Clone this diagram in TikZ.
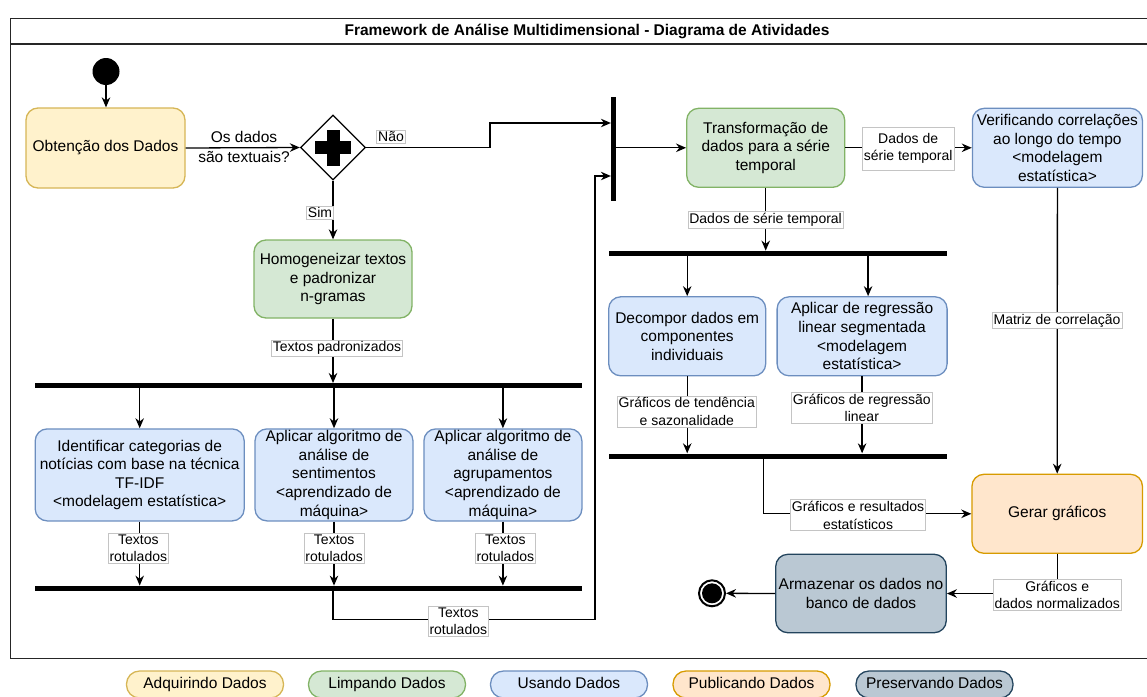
\documentclass[tikz,border=0pt]{standalone}
\usepackage{fontspec}
\setmainfont{Liberation Sans}
\usetikzlibrary{shapes.geometric,arrows.meta}

\definecolor{yfill}{HTML}{FFF2CC}\definecolor{ydraw}{HTML}{D6B656}
\definecolor{gfill}{HTML}{D5E8D4}\definecolor{gdraw}{HTML}{82B366}
\definecolor{bfill}{HTML}{DAE8FC}\definecolor{bdraw}{HTML}{6C8EBF}
\definecolor{ofill}{HTML}{FFE6CC}\definecolor{odraw}{HTML}{D79B00}
\definecolor{sfill}{HTML}{BAC8D3}\definecolor{sdraw}{HTML}{23445D}
\definecolor{lblgray}{HTML}{C4C4C4}

\newcommand{\actfont}{\fontsize{15.5}{18.6}\selectfont}
\newcommand{\labfont}{\fontsize{14}{17.5}\selectfont}

\begin{document}
\begin{tikzpicture}[x=1pt,y=-1pt,
  act/.style={draw, rounded corners=12pt, line width=1.3pt, align=center, inner sep=1pt, font=\actfont},
  yel/.style={act, fill=yfill, draw=ydraw},
  grn/.style={act, fill=gfill, draw=gdraw},
  blu/.style={act, fill=bfill, draw=bdraw},
  org/.style={act, fill=ofill, draw=odraw},
  gry/.style={act, fill=sfill, draw=sdraw},
  syncbar/.style={fill=black, draw=none, inner sep=0pt},
  arr/.style={line width=1.3pt, -{Stealth[length=10pt,width=8.5pt]}},
  lbl/.style={fill=white, draw=lblgray, line width=0.6pt, inner sep=1.5pt, align=center, font=\labfont},
  pill/.style={rounded corners=13pt, line width=1.3pt, minimum width=157pt, minimum height=27pt, inner sep=1pt, text height=11.2pt, text depth=3.3pt, font=\actfont},
  frame/.style={draw=black!85, line width=1.3pt}]

\useasboundingbox (0,0) rectangle (1147,696);

% outer frame with title bar
\draw[frame] (10.5,18.3) rectangle (1152,658.3);
\draw[frame] (10.5,44) -- (1152,44);
\node[font=\bfseries\actfont] (title) at (587,31) {Framework de Análise Multidimensional - Diagrama de Atividades};

% activities
\node[circle, fill=black, minimum size=27pt, inner sep=0pt] (ini) at (106,71.5) {};
\node[yel, minimum width=159pt, minimum height=80pt] (obt) at (105.5,148) {Obtenção dos Dados};
\node[diamond, draw, line width=1.3pt, fill=white, minimum width=65pt, minimum height=65pt, inner sep=0pt] (gw) at (333,147.5) {};
\fill (gw.center) +(-18,-6.25) rectangle +(18,6.25);
\fill (gw.center) +(-6.5,-18) rectangle +(6.5,18);

\node[grn, minimum width=158pt, minimum height=78pt] (hom) at (333,279) {Homogeneizar textos\\e padronizar\\n-gramas};
\node[syncbar, minimum width=546.5pt, minimum height=5pt] (bar1) at (308.5,385.7) {};

\node[blu, minimum width=209pt, minimum height=92pt] (ident) at (139.7,474.9) {Identificar categorias de\\notícias com base na técnica\\TF-IDF\\<modelagem estatística>};
\node[blu, minimum width=158pt, minimum height=92pt] (senti) at (334,474.9) {Aplicar algoritmo de\\análise de\\sentimentos\\<aprendizado de\\máquina>};
\node[blu, minimum width=158pt, minimum height=92pt] (agrup) at (502.9,474.9) {Aplicar algoritmo de\\análise de\\agrupamentos\\<aprendizado de\\máquina>};
\node[syncbar, minimum width=546.5pt, minimum height=5pt] (bar2) at (308.5,588.3) {};

\node[syncbar, minimum width=5pt, minimum height=103.5pt] (vbar) at (613.6,149) {};
\node[grn, minimum width=158pt, minimum height=79pt] (trans) at (765.7,147.8) {Transformação de\\dados para a série\\temporal};
\node[blu, minimum width=170pt, minimum height=79pt] (verif) at (1057.4,147.8) {Verificando correlações\\ao longo do tempo\\<modelagem\\estatística>};
\node[syncbar, minimum width=338pt, minimum height=5pt] (bar3) at (778,253.3) {};

\node[blu, minimum width=157pt, minimum height=79pt] (decomp) at (687.2,336.3) {Decompor dados em\\componentes\\individuais};
\node[blu, minimum width=170pt, minimum height=79pt] (regr) at (862.1,336.3) {Aplicar de regressão\\linear segmentada\\<modelagem\\estatística>};
\node[syncbar, minimum width=338.5pt, minimum height=5pt] (bar4) at (777.75,456) {};

\node[org, minimum width=170.5pt, minimum height=79pt] (gerar) at (1057.2,513.8) {Gerar gráficos};
\node[gry, minimum width=170.5pt, minimum height=78.4pt] (armaz) at (861,593.5) {Armazenar os dados no\\banco de dados};
\node[circle, draw, line width=2pt, fill=white, minimum size=26pt, inner sep=0pt] (fin) at (712,593.3) {};
\fill (fin.center) circle[radius=10pt];

% bend points
\coordinate (nbend) at (490,123);
\coordinate (tr1) at (333,619.3);
\coordinate (tr2) at (595,176);

% connectors
\draw[arr] (ini.south) -- (ini.south |- obt.north);
\draw[arr] (obt.east) -- (gw.west);
\draw[arr] (gw.east) -| (nbend) -- (nbend -| vbar.west);
\draw[arr] (gw.south) -- (hom.north);
\draw[arr] (hom.south) -- (hom.south |- bar1.north);
\draw[arr] (ident.north |- bar1.south) -- (ident.north);
\draw[arr] (senti.north |- bar1.south) -- (senti.north);
\draw[arr] (agrup.north |- bar1.south) -- (agrup.north);
\draw[arr] (ident.south) -- (ident.south |- bar2.north);
\draw[arr] (senti.south) -- (senti.south |- bar2.north);
\draw[arr] (agrup.south) -- (agrup.south |- bar2.north);
\draw[arr] (tr1 |- bar2.south) -- (tr1) -| (tr2) -- (tr2 -| vbar.west);
\draw[arr] (vbar.east |- trans.west) -- (trans.west);
\draw[arr] (trans.east) -- (verif.west);
\draw[arr] (trans.south) -- (trans.south |- bar3.north);
\draw[arr] (decomp.north |- bar3.south) -- (decomp.north);
\draw[arr] ([xshift=6pt]regr.north |- bar3.south) -- ([xshift=6pt]regr.north);
\draw[arr] (decomp.south) -- (decomp.south |- bar4.north);
\draw[arr] (regr.south) -- (regr.south |- bar4.north);
\draw[arr] ([xshift=-14pt]bar4.south) |- (gerar.west);
\draw[arr] (verif.south) -- (gerar.north);
\draw[arr] (gerar.south) |- (armaz.east);
\draw[arr] (armaz.west) -- (fin.east);

% connector labels
\node[font=\actfont, align=center] (qtxt) at (244,146.7) {Os dados\\[1.4pt]são textuais?};
\node[lbl] (lnao) at (391,137) {Não};
\node[lbl] (lsim) at (320,212.5) {Sim};
\node[lbl] (lpad) at (337,348) {Textos padronizados};
\node[lbl] (lr1) at (138.3,548) {Textos\\rotulados};
\node[lbl] (lr2) at (334.2,548) {Textos\\rotulados};
\node[lbl] (lr3) at (505.3,548) {Textos\\rotulados};
\node[lbl] (lr4) at (458.3,621) {Textos\\rotulados};
\node[lbl, minimum height=43pt] (lst1) at (908.2,148.3) {Dados de\\série temporal};
\node[lbl] (lst2) at (765.6,219.7) {Dados de série temporal};
\node[lbl] (lmat) at (1057,320.5) {Matriz de correlação};
\node[lbl] (ltend) at (686.8,411.5) {Gráficos de tendência\\e sazonalidade};
\node[lbl] (lreg) at (861.8,408) {Gráficos de regressão\\linear};
\node[lbl] (lres) at (858,515.2) {Gráficos e resultados\\estatísticos};
\node[lbl] (lnorm) at (1057.2,595) {Gráficos e\\dados normalizados};

% legend
\node[pill, fill=yfill, draw=ydraw] (kacq) at (205,684.5) {Adquirindo Dados};
\node[pill, fill=gfill, draw=gdraw] (kcln) at (387,684.5) {Limpando Dados};
\node[pill, fill=bfill, draw=bdraw] (kuse) at (569,684.5) {Usando Dados};
\node[pill, fill=ofill, draw=odraw] (kpub) at (751.5,684.5) {Publicando Dados};
\node[pill, fill=sfill, draw=sdraw] (kpre) at (934.5,684.5) {Preservando Dados};
\end{tikzpicture}
\end{document}
